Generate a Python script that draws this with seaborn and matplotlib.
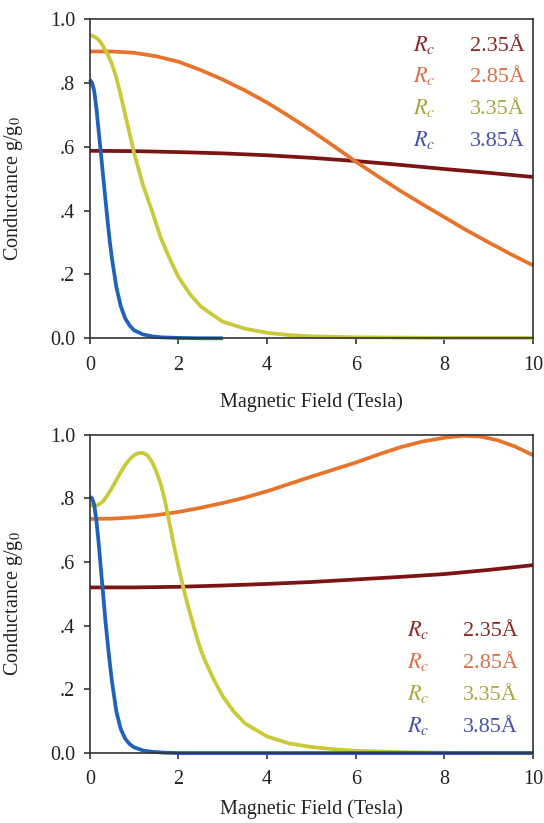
import numpy as np
import pandas as pd
import matplotlib
matplotlib.use("Agg")
import matplotlib.pyplot as plt
import seaborn as sns

# ---------------- data ----------------
series_names = ["2.35", "2.85", "3.35", "3.85"]
line_colors = ["#7d1414", "#e8742c", "#c9c93a", "#1f62bd"]
text_colors = ["#8a2a2a", "#d9704a", "#a8a840", "#4a50b0"]

# Top panel
top_red_x = [0, 1, 2, 3, 4, 5, 6, 7, 8, 9, 10]
top_red_y = [0.587, 0.586, 0.583, 0.579, 0.573, 0.565, 0.555, 0.543, 0.530, 0.518, 0.505]
top_orange_x = [0, 0.5, 1, 1.5, 2, 2.5, 3, 3.5, 4, 4.5, 5, 5.5, 6, 6.5, 7, 7.5, 8, 8.5, 9,
                9.5, 10]
top_orange_y = [0.898, 0.898, 0.894, 0.883, 0.866, 0.84, 0.81, 0.776, 0.738, 0.695, 0.65,
                0.602, 0.553, 0.507, 0.462, 0.42, 0.379, 0.338, 0.30, 0.263, 0.228]
top_yellow_x = [0, 0.1, 0.2, 0.3, 0.4, 0.5, 0.6, 0.7, 0.8, 0.9, 1.0, 1.2, 1.4, 1.6, 1.8,
                2.0, 2.25, 2.5, 2.75, 3.0, 3.5, 4.0, 4.5, 5, 6, 7, 8, 9, 10]
top_yellow_y = [0.95, 0.945, 0.935, 0.915, 0.89, 0.86, 0.815, 0.76, 0.70, 0.64, 0.58, 0.48,
                0.40, 0.315, 0.25, 0.192, 0.14, 0.10, 0.075, 0.052, 0.03, 0.017, 0.01, 0.006,
                0.003, 0.002, 0.001, 0.001, 0.001]
top_blue_x = [0, 0.05, 0.1, 0.15, 0.2, 0.25, 0.3, 0.35, 0.4, 0.45, 0.5, 0.6, 0.7, 0.8, 0.9,
              1.0, 1.2, 1.4, 1.6, 2.0, 2.5, 3.0]
top_blue_y = [0.81, 0.80, 0.775, 0.72, 0.65, 0.58, 0.51, 0.44, 0.37, 0.305, 0.25, 0.16, 0.10,
              0.062, 0.04, 0.025, 0.012, 0.006, 0.003, 0.001, 0.0, 0.0]

# Bottom panel
bot_red_x = [0, 1, 2, 3, 4, 5, 6, 7, 8, 9, 10]
bot_red_y = [0.52, 0.52, 0.522, 0.526, 0.531, 0.537, 0.545, 0.553, 0.562, 0.575, 0.59]
bot_orange_x = [0, 0.5, 1, 1.5, 2, 2.5, 3, 3.5, 4, 4.5, 5, 5.5, 6, 6.5, 7, 7.5, 8, 8.4,
                8.8, 9.2, 9.6, 10]
bot_orange_y = [0.735, 0.736, 0.74, 0.747, 0.757, 0.77, 0.785, 0.802, 0.822, 0.845, 0.868,
                0.89, 0.912, 0.937, 0.96, 0.978, 0.99, 0.996, 0.994, 0.982, 0.962, 0.935]
bot_yellow_x = [0, 0.1, 0.2, 0.3, 0.4, 0.5, 0.6, 0.7, 0.8, 0.9, 1.0, 1.1, 1.2, 1.3, 1.4, 1.5,
                1.6, 1.7, 1.8, 1.9, 2.0, 2.1, 2.2, 2.3, 2.4, 2.5, 2.6, 2.8, 3.0, 3.25, 3.5,
                4.0, 4.5, 5.0, 5.5, 6, 7, 8, 9, 10]
bot_yellow_y = [0.78, 0.775, 0.78, 0.79, 0.81, 0.832, 0.857, 0.882, 0.905, 0.922, 0.935,
                0.942, 0.942, 0.935, 0.915, 0.885, 0.845, 0.79, 0.72, 0.65, 0.585, 0.525,
                0.47, 0.42, 0.37, 0.325, 0.29, 0.23, 0.178, 0.13, 0.093, 0.052, 0.03, 0.019,
                0.012, 0.007, 0.003, 0.001, 0.0, 0.0]
bot_blue_x = [0, 0.05, 0.1, 0.15, 0.2, 0.25, 0.3, 0.35, 0.4, 0.45, 0.5, 0.6, 0.7, 0.8, 0.9,
              1.0, 1.2, 1.4, 1.7, 2, 4, 6, 8, 10]
bot_blue_y = [0.805, 0.80, 0.78, 0.73, 0.66, 0.58, 0.50, 0.42, 0.35, 0.285, 0.225, 0.13,
              0.075, 0.045, 0.028, 0.018, 0.008, 0.004, 0.001, 0.0, 0.0, 0.0, 0.0, 0.0]

x_ticks = [0, 2, 4, 6, 8, 10]
y_ticks = [0.0, 0.2, 0.4, 0.6, 0.8, 1.0]
y_tick_labels = ["0.0", ".2", ".4", ".6", ".8", "1.0"]
x_label = "Magnetic Field (Tesla)"
y_label = "Conductance g/g$_0$"


def make_df(xs, ys):
    frames = []
    for name, x, y in zip(series_names, xs, ys):
        frames.append(pd.DataFrame({"B": x, "G": y, "Rc": name}))
    return pd.concat(frames, ignore_index=True)


df_top = make_df([top_red_x, top_orange_x, top_yellow_x, top_blue_x],
                 [top_red_y, top_orange_y, top_yellow_y, top_blue_y])
df_bot = make_df([bot_red_x, bot_orange_x, bot_yellow_x, bot_blue_x],
                 [bot_red_y, bot_orange_y, bot_yellow_y, bot_blue_y])

# ---------------- style ----------------
sns.set_theme(style="ticks")
plt.rcParams["font.family"] = ["Liberation Serif", "DejaVu Serif"]
plt.rcParams["mathtext.fontset"] = "stix"
plt.rcParams["axes.edgecolor"] = "#333333"
plt.rcParams["axes.linewidth"] = 1.2

fig = plt.figure(figsize=(5.44, 8.23), dpi=100)
fig.patch.set_facecolor("white")
ax_top = fig.add_axes([0.165, 0.589, 0.815, 0.388])
ax_bot = fig.add_axes([0.165, 0.085, 0.815, 0.387])

palette = dict(zip(series_names, line_colors))


def draw(ax, df, legend_pos, xlab_y, ylab_y):
    sns.lineplot(data=df, x="B", y="G", hue="Rc", palette=palette, estimator=None,
                 sort=False, linewidth=2.7, legend=False, ax=ax)
    for ln in ax.get_lines():
        ln.set_clip_on(False)
        ln.set_solid_capstyle("butt")
        ln.set_solid_joinstyle("round")
    ax.set_xlim(0, 10)
    ax.set_ylim(0, 1.0)
    ax.set_xticks(x_ticks)
    ax.set_yticks(y_ticks)
    ax.set_yticklabels(y_tick_labels)
    ax.tick_params(axis="both", direction="out", length=4.5, width=1.2, color="#333333",
                   labelsize=14.5, labelcolor="#222222")
    ax.tick_params(axis="x", pad=8)
    ax.tick_params(axis="y", pad=6)
    for sp in ax.spines.values():
        sp.set_visible(True)
        sp.set_color("#333333")
    ax.set_xlabel(x_label, fontsize=14.5, color="#222222")
    ax.set_ylabel(y_label, fontsize=14.5, color="#222222")
    ax.xaxis.set_label_coords(0.5, xlab_y)
    ax.yaxis.set_label_coords(-0.145, ylab_y)
    rx, nx, ys = legend_pos
    for name, c, yy in zip(series_names, text_colors, ys):
        ax.text(rx, yy, r"$R_c$", color=c, fontsize=16, transform=ax.transAxes,
                ha="left", va="baseline")
        ax.text(nx, yy, name + "Å", color=c, fontsize=16, transform=ax.transAxes,
                ha="right", va="baseline")
    ax.set_facecolor("white")


draw(ax_top, df_top, (0.728, 0.982, [0.900, 0.801, 0.701, 0.601]), -0.17, 0.47)
draw(ax_bot, df_bot, (0.716, 0.966, [0.366, 0.268, 0.167, 0.067]), -0.145, 0.47)

fig.savefig("out.png", dpi=100, facecolor="white")
